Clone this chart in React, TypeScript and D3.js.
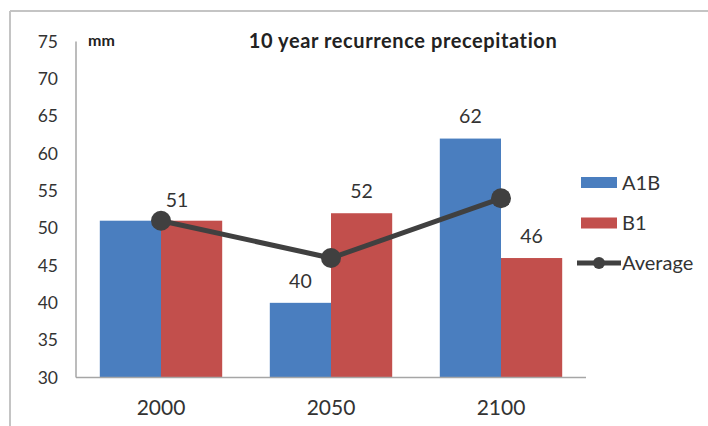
import React from "react";
import * as d3 from "d3";

// Data
const categories = ["2000", "2050", "2100"];
const seriesNames = ["A1B", "B1"];
const a1b = [51, 40, 62];
const b1 = [51, 52, 46];
const average = [51, 46, 54];
const yTicks = [30, 35, 40, 45, 50, 55, 60, 65, 70, 75];

const W = 708;
const H = 426;
const FONT = "Lato, 'Open Sans', sans-serif";
const TEXT = "#333333";
const COLORS = ["#4a7ebf", "#c24f4c"];
const LINE = "#404040";

export default function App() {
  const x = d3.scaleBand<string>().domain(categories).range([76, 586]).paddingInner(0).paddingOuter(0);
  const y = d3.scaleLinear().domain([30, 75]).range([377.5, 41.5]);
  const groupW = x.bandwidth() * 0.72;
  const sub = d3.scaleBand<string>().domain(seriesNames).range([0, groupW]);
  const values = [a1b, b1];

  const cx = (c: string) => (x(c) as number) + x.bandwidth() / 2;
  const line = d3
    .line<number>()
    .x((_, i) => cx(categories[i]))
    .y((d) => y(d));

  // one label per bar; when both bars of a group share the same value, a single label is shown
  const labels: { x: number; y: number; text: string }[] = [];
  categories.forEach((c, i) => {
    const g0 = cx(c) - groupW / 2;
    if (a1b[i] === b1[i]) {
      labels.push({ x: cx(c) + 16, y: y(a1b[i]) - 21, text: String(a1b[i]) });
    } else {
      values.forEach((vals, s) => {
        labels.push({
          x: g0 + (sub(seriesNames[s]) as number) + sub.bandwidth() / 2,
          y: y(vals[i]) - 22,
          text: String(vals[i]),
        });
      });
    }
  });

  return (
    <svg width={W} height={H} style={{ position: "absolute", left: 0, top: 0, background: "#fff" }}>
      {/* frame */}
      <line x1={10} y1={11} x2={W} y2={11} stroke="#c4c4c4" strokeWidth={2} />
      <line x1={10} y1={11} x2={10} y2={H} stroke="#c4c4c4" strokeWidth={2} />

      {/* title */}
      <text x={403} y={48} textAnchor="middle" fontFamily={FONT} fontWeight="bold" fontSize={20} letterSpacing={0.6} fill="#222">
        10 year recurrence precepitation
      </text>
      <text x={88} y={46} fontFamily={FONT} fontWeight="bold" fontSize={16} fill="#222">
        mm
      </text>

      {/* y axis */}
      <line x1={76} y1={y(75)} x2={76} y2={y(30)} stroke="#a6a6a6" strokeWidth={1.5} />
      {yTicks.map((t) => (
        <text key={t} x={58} y={y(t)} dy="0.35em" textAnchor="end" fontFamily={FONT} fontSize={17.5} fill={TEXT}>
          {t}
        </text>
      ))}

      {/* bars */}
      {categories.map((c, i) => {
        const g0 = cx(c) - groupW / 2;
        return values.map((vals, s) => (
          <rect
            key={c + s}
            x={g0 + (sub(seriesNames[s]) as number)}
            y={y(vals[i])}
            width={sub.bandwidth()}
            height={y(30) - y(vals[i])}
            fill={COLORS[s]}
          />
        ));
      })}

      {/* x axis */}
      <line x1={76} y1={y(30)} x2={586} y2={y(30)} stroke="#a6a6a6" strokeWidth={1.5} />
      {categories.map((c) => (
        <text key={c} x={cx(c)} y={415} textAnchor="middle" fontFamily={FONT} fontSize={21} fill={TEXT}>
          {c}
        </text>
      ))}

      {/* average line */}
      <path d={line(average) || ""} fill="none" stroke={LINE} strokeWidth={5} />
      {average.map((v, i) => (
        <circle key={i} cx={cx(categories[i])} cy={y(v)} r={10} fill={LINE} />
      ))}

      {/* data labels */}
      {labels.map((l, i) => (
        <text key={i} x={l.x} y={l.y} dy="0.35em" textAnchor="middle" fontFamily={FONT} fontSize={19.5} fill={TEXT}>
          {l.text}
        </text>
      ))}

      {/* legend */}
      {seriesNames.map((n, s) => (
        <g key={n} transform={`translate(581, ${177 + s * 40.5})`}>
          <rect x={0} y={0} width={36} height={11} fill={COLORS[s]} />
          <text x={41} y={5.5} dy="0.35em" fontFamily={FONT} fontSize={20} fill={TEXT}>
            {n}
          </text>
        </g>
      ))}
      <g transform="translate(577, 263)">
        <line x1={0} y1={0} x2={44} y2={0} stroke={LINE} strokeWidth={5} />
        <circle cx={22} cy={0} r={6} fill={LINE} />
        <text x={45} y={0} dy="0.35em" fontFamily={FONT} fontSize={20} fill={TEXT}>
          Average
        </text>
      </g>
    </svg>
  );
}
